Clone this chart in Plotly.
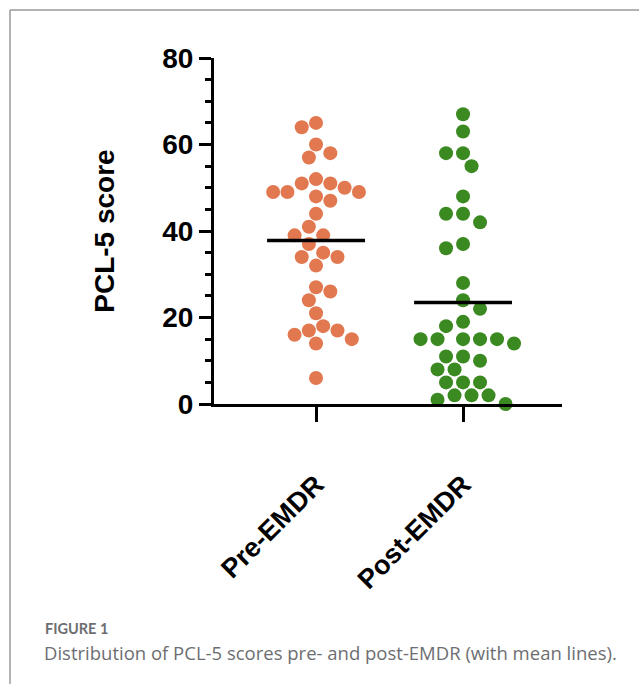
import plotly.graph_objects as go

# ---------------- data ----------------
categories = ["Pre-EMDR", "Post-EMDR"]
pre_scores = [65, 64, 60, 58, 57, 52, 51, 51, 50, 49, 49, 49, 48, 47, 44, 41, 39, 39,
              37, 35, 34, 34, 32, 27, 26, 24, 21, 18, 17, 17, 16, 15, 14, 6]
post_scores = [67, 63, 58, 58, 55, 48, 44, 44, 42, 37, 36, 28, 24, 22, 19, 18, 15, 15,
               15, 15, 15, 14, 11, 11, 10, 8, 8, 5, 5, 5, 2, 2, 2, 1, 0]
y_ticks = [0, 20, 40, 60, 80]
colors = ["#E2784F", "#3B8921"]
caption_label = "FIGURE 1"
caption_text = "Distribution of PCL-5 scores pre- and post-EMDR (with mean lines)."

# ---------------- layout geometry (pixels) ----------------
W, H = 639, 684
L, R, T, B = 214, 562, 58, 404
XR = [-0.694, 1.673]
YR = [0, 80]
px_per_x = (R - L) / (XR[1] - XR[0])
px_per_y = (B - T) / (YR[1] - YR[0])
MARKER = 14
COLLIDE = 14.0
HALF_STEP = [7.15, 8.5]   # column grid (half a column step) per group


def px2paper(px, py):
    return (px - L) / (R - L), (B - py) / (B - T)


def swarm(values, d, half):
    """Grid-quantised beeswarm: returns horizontal offsets in x-axis units."""
    placed = []
    offsets = [0.0] * len(values)
    order = sorted(range(len(values)), key=lambda i: -values[i])
    for i in order:
        y = values[i] * px_per_y
        chosen = 0.0
        for k in range(0, 40):
            left = sum(1 for ox, _ in placed if ox < 0)
            right = sum(1 for ox, _ in placed if ox > 0)
            sides = [0] if k == 0 else ([-1, 1] if left <= right else [1, -1])
            ok = None
            for s in sides:
                c = s * k * half
                if all((c - ox) ** 2 + (y - oy) ** 2 >= d * d - 1e-6 for ox, oy in placed):
                    ok = c
                    break
            if ok is not None:
                chosen = ok
                break
        placed.append((chosen, y))
        offsets[i] = chosen / px_per_x
    return offsets


fig = go.Figure()
groups = [pre_scores, post_scores]
for gi, vals in enumerate(groups):
    offs = swarm(vals, COLLIDE, HALF_STEP[gi])
    fig.add_trace(go.Scatter(
        x=[gi + o for o in offs], y=vals, mode="markers",
        marker=dict(size=MARKER, color=colors[gi], line=dict(width=0)),
        cliponaxis=False, hoverinfo="y", name=categories[gi]))
    mean = sum(vals) / len(vals)
    fig.add_trace(go.Scatter(
        x=[gi - 0.333, gi + 0.333], y=[mean, mean], mode="lines",
        line=dict(color="black", width=3.5), cliponaxis=False,
        hoverinfo="skip", name=categories[gi] + " mean"))

bold = dict(family="Liberation Sans, Arial, sans-serif", color="black", weight="bold")

fig.update_layout(
    width=W, height=H,
    margin=dict(l=L, r=W - R, t=T, b=H - B, autoexpand=False),
    paper_bgcolor="white", plot_bgcolor="white",
    showlegend=False,
    xaxis=dict(
        range=XR, tickmode="array", tickvals=[0, 1], ticktext=categories,
        tickangle=-45, showline=True, linecolor="black", linewidth=3,
        ticks="outside", ticklen=15, tickwidth=3, tickcolor="black",
        tickfont=dict(size=27, **bold), ticklabelstandoff=36,
        showgrid=False, zeroline=False, fixedrange=True),
    yaxis=dict(
        range=YR, tickmode="array", tickvals=y_ticks,
        showline=True, linecolor="black", linewidth=3,
        ticks="outside", ticklen=12, tickwidth=3, tickcolor="black",
        tickfont=dict(size=28, **bold),
        minor=dict(dtick=5, tick0=0, ticks="outside", ticklen=6, tickwidth=3,
                   tickcolor="black", showgrid=False),
        title=dict(text="PCL-5 score", font=dict(size=28, **bold), standoff=40),
        showgrid=False, zeroline=False, fixedrange=True),
)

# frame (left and top border)
x0, y0 = px2paper(10, 10)
x1, _ = px2paper(W, 10)
_, y1 = px2paper(10, H)
fig.add_shape(type="line", xref="paper", yref="paper", x0=x0, y0=y0, x1=x1, y1=y0,
              line=dict(color="#9a9a9a", width=1.5))
fig.add_shape(type="line", xref="paper", yref="paper", x0=x0, y0=y0, x1=x0, y1=y1,
              line=dict(color="#9a9a9a", width=1.5))

# caption
cx, cy = px2paper(43, 628)
fig.add_annotation(xref="paper", yref="paper", x=cx, y=cy, xanchor="left", yanchor="middle",
                   text=caption_label, showarrow=False,
                   font=dict(family="Lato, Open Sans, sans-serif", size=14.5, color="#6d6e71",
                             weight="bold"))
cx, cy = px2paper(42, 652)
fig.add_annotation(xref="paper", yref="paper", x=cx, y=cy, xanchor="left", yanchor="middle",
                   text=caption_text, showarrow=False,
                   font=dict(family="Open Sans, Lato, sans-serif", size=18.5, color="#6d6e71"))

fig.write_html("out.html", config={"displayModeBar": False},
               post_script="document.body.style.margin='0';")
